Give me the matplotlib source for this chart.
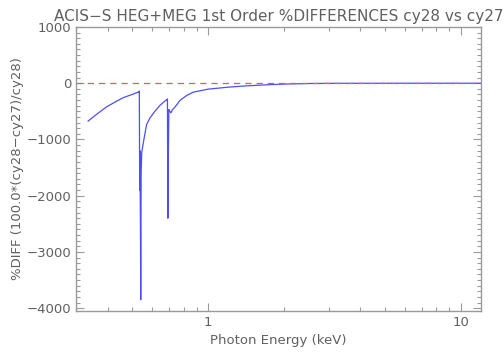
import matplotlib
matplotlib.use("Agg")
import matplotlib.pyplot as plt
from matplotlib.ticker import MultipleLocator, LogLocator, FixedLocator, NullFormatter

# Data
energy_kev = [0.335, 0.36, 0.396, 0.43, 0.461, 0.50, 0.529, 0.534,
              0.536, 0.537, 0.538, 0.540, 0.541, 0.543, 0.546, 0.552,
              0.560, 0.571, 0.589, 0.616, 0.645, 0.672, 0.686, 0.690,
              0.692, 0.693, 0.695, 0.699, 0.705, 0.712, 0.722, 0.740,
              0.774, 0.823, 0.874, 1.0, 1.2, 1.4, 1.7, 2.0, 2.5, 3.0,
              4.0, 6.0, 8.0, 10.0, 12.0]
pct_diff = [-673, -560, -421, -330, -257, -200, -158, -140,
            -1900, -1200, -1650, -2900, -3850, -1600, -1230, -1100,
            -936, -731, -614, -497, -392, -322, -292, -280,
            -2150, -2400, -1500, -468, -500, -526, -470, -421,
            -304, -216, -158, -105, -70, -48, -28, -15, -5, -2,
            -1, 0, 0, 0, 0]

title = "ACIS\u2212S HEG+MEG 1st Order %DIFFERENCES cy28 vs cy27"
xlabel = "Photon Energy (keV)"
ylabel = "%DIFF (100.0*(cy28\u2212cy27)/cy28)"

axis_col = "#9a9a9a"
text_col = "#606060"

fig = plt.figure(figsize=(5.04, 3.60), dpi=100)
ax = fig.add_axes([76/504, 1 - 311/360, (481-76)/504, (311-27)/360])

ax.plot(energy_kev, pct_diff, color="#4d4dff", lw=0.9)
ax.axhline(0, color="#e05a5a", lw=0.9, ls=(0, (5, 4)))

ax.set_xscale("log")
ax.set_xlim(0.3, 12)
ax.set_ylim(-4050, 1000)

ax.yaxis.set_major_locator(MultipleLocator(1000))
ax.yaxis.set_minor_locator(MultipleLocator(100))
ax.xaxis.set_major_locator(FixedLocator([1, 10]))
ax.xaxis.set_minor_locator(LogLocator(base=10, subs=range(2, 10)))
ax.xaxis.set_minor_formatter(NullFormatter())
ax.set_xticklabels(["1", "10"])
ax.set_yticks([1000, 0, -1000, -2000, -3000, -4000])
ax.set_yticklabels(["1000", "0", "\u22121000", "\u22122000", "\u22123000", "\u22124000"])

ax.tick_params(which="both", direction="in", top=True, right=True,
               color=axis_col, labelcolor=text_col, labelsize=9.5)
ax.tick_params(which="major", length=6, width=0.8)
ax.tick_params(which="minor", length=3, width=0.8)
for s in ax.spines.values():
    s.set_color(axis_col)
    s.set_linewidth(1.0)

ax.set_xlabel(xlabel, color=text_col, fontsize=9.5, labelpad=4)
ax.set_ylabel(ylabel, color=text_col, fontsize=9.5, labelpad=2)
ax.set_title(title, color=text_col, fontsize=11, pad=4)

fig.savefig("out.png", dpi=100)
